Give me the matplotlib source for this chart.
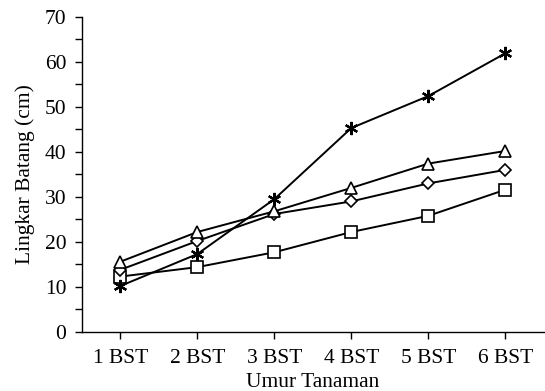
import numpy as np
import matplotlib as mpl
import matplotlib.pyplot as plt
from matplotlib.ticker import MultipleLocator

mpl.rcParams.update({
    'font.family': 'serif', 'font.serif': ['Liberation Serif', 'DejaVu Serif'],
    'font.size': 15.5, 'axes.linewidth': 1.0,
    'axes.spines.top': False, 'axes.spines.right': False,
})

umur = ['1 BST', '2 BST', '3 BST', '4 BST', '5 BST', '6 BST']
bintang = [10.2, 17.3, 29.5, 45.3, 52.4, 61.9]
segitiga = [15.6, 22.2, 26.8, 32.0, 37.4, 40.2]
belah_ketupat = [13.8, 20.2, 26.2, 29.0, 33.0, 36.0]
kotak = [12.3, 14.4, 17.7, 22.2, 25.8, 31.6]

x = np.arange(1, len(umur) + 1)

fig = plt.figure(figsize=(5.45, 3.91), dpi=100)
ax = fig.add_axes([0.150, 0.151, 0.848, 0.806])

kw = dict(color='black', lw=1.4, mfc='white', mec='black', mew=1.2)
ax.plot(x, kotak, marker='s', ms=9, **kw)
ax.plot(x, belah_ketupat, marker='D', ms=6.5, **kw)
ax.plot(x, segitiga, marker='^', ms=9, **kw)
ax.plot(x, bintang, marker=(6, 2, 0), ms=9.5, color='black', lw=1.4, mew=1.6)

ax.set_xlim(0.5, 6.5)
ax.set_ylim(0, 70)
ax.set_xticks(x)
ax.set_xticklabels(umur)
ax.yaxis.set_major_locator(MultipleLocator(10))
ax.yaxis.set_minor_locator(MultipleLocator(5))
ax.tick_params(axis='both', direction='out', length=5, width=1.0)
ax.tick_params(axis='y', which='minor', direction='out', length=5, width=1.0)
ax.tick_params(axis='x', pad=7)
ax.tick_params(axis='y', pad=6)
ax.set_xlabel('Umur Tanaman', labelpad=4)
ax.set_ylabel('Lingkar Batang (cm)', labelpad=7)

fig.savefig('out.png', dpi=100)
